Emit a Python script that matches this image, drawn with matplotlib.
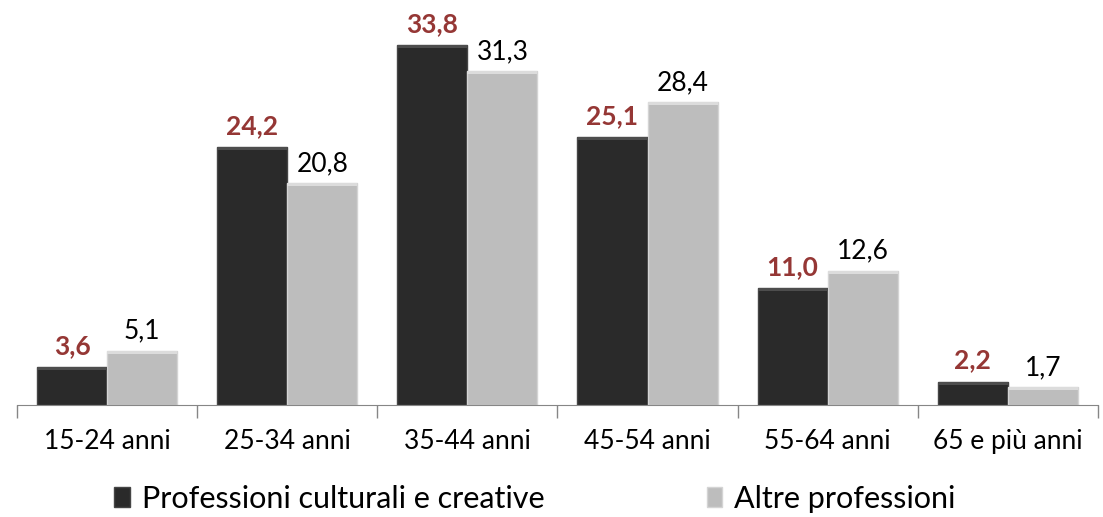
import numpy as np
import matplotlib.pyplot as plt
from matplotlib.patches import Rectangle

# --------------------------------------------------
# Daten
# --------------------------------------------------
categories = ["15-24 anni", "25-34 anni", "35-44 anni", "45-54 anni", "55-64 anni", "65 e più anni"]
culturali = [3.6, 24.2, 33.8, 25.1, 11.0, 2.2]
altre = [5.1, 20.8, 31.3, 28.4, 12.6, 1.7]
series_names = ["Professioni culturali e creative", "Altre professioni"]

plt.rcParams["font.family"] = ["Lato", "DejaVu Sans"]

DARK = "#2a2a2a"
LIGHT = "#bdbdbd"
LABEL_RED = "#953735"

fig = plt.figure(figsize=(11.03, 5.17), dpi=100)
ax = fig.add_axes([0.0154, 0.2166, 0.9800, 0.7834])

x = np.arange(len(categories))
w = 0.389

bars1 = ax.bar(x - w / 2, culturali, w, color=DARK, edgecolor="#454545", linewidth=1.0, zorder=2)
bars2 = ax.bar(x + w / 2, altre, w, color=LIGHT, edgecolor="#d4d4d4", linewidth=1.0, zorder=2)

# leichte Bevel-Kante oben
for bars, top in ((bars1, "#4d4d4d"), (bars2, "#dcdcdc")):
    for b in bars:
        h = min(0.28, b.get_height() * 0.2)
        ax.add_patch(Rectangle((b.get_x(), b.get_height() - h), b.get_width(), h,
                               color=top, zorder=3, linewidth=0))

for xi, v in zip(x, culturali):
    ax.annotate(f"{v:.1f}".replace(".", ","), (xi - w / 2, v), xytext=(0, 13),
                textcoords="offset pixels", ha="center", va="baseline",
                fontsize=19, fontweight="bold", color=LABEL_RED)
for xi, v in zip(x, altre):
    ax.annotate(f"{v:.1f}".replace(".", ","), (xi + w / 2, v), xytext=(0, 12),
                textcoords="offset pixels", ha="center", va="baseline",
                fontsize=19, color="black")

ax.set_xlim(-0.5, len(categories) - 0.5)
ax.set_ylim(0, 38)
ax.set_yticks([])
ax.set_xticks(np.arange(len(categories) + 1) - 0.5, minor=False)
ax.set_xticklabels([])
ax.tick_params(axis="x", length=9, color="#868686", width=1)
ax.set_xticks(x, minor=True)
ax.set_xticklabels(categories, minor=True, fontsize=19)
ax.tick_params(axis="x", which="minor", length=0, pad=17)

for s in ["top", "left", "right"]:
    ax.spines[s].set_visible(False)
ax.spines["bottom"].set_color("#868686")

fig.legend([bars1, bars2], series_names, loc="center", ncol=2, frameon=False,
           fontsize=22, handlelength=0.5, handleheight=0.6, handletextpad=0.4,
           columnspacing=5.3, bbox_to_anchor=(0.485, 0.035))

fig.savefig("out.png", dpi=100)
